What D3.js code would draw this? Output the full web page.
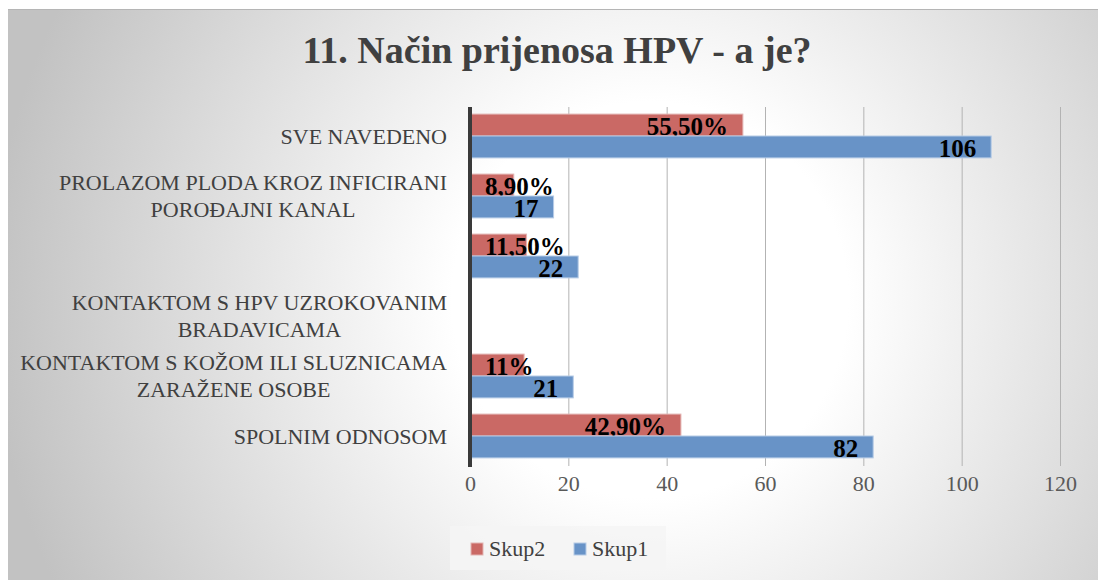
<!DOCTYPE html>
<html>
<head>
<meta charset="utf-8">
<script src="https://d3js.org/d3.v7.min.js"></script>
<style>
  body { margin: 0; background: #fff; }
  svg text { font-family: "Liberation Serif", "DejaVu Serif", serif; }
</style>
</head>
<body>
<div id="chart"></div>
<script>
// Categories from top to bottom (\n marks where the label wraps)
var categories = [
  "SVE NAVEDENO",
  "PROLAZOM PLODA KROZ INFICIRANI\nPOROĐAJNI KANAL",
  "",
  "KONTAKTOM S HPV UZROKOVANIM\nBRADAVICAMA",
  "KONTAKTOM S KOŽOM ILI SLUZNICAMA\nZARAŽENE OSOBE",
  "SPOLNIM ODNOSOM"
];
// Skup1 = counts, Skup2 = percentages (null = no bar)
var skup1 = [106, 17, 22, null, 21, 82];
var skup2 = [55.5, 8.9, 11.5, null, 11, 42.9];
var xTicks = [0, 20, 40, 60, 80, 100, 120];
var seriesNames = ["Skup2", "Skup1"];

var W = 1098, H = 580;
var svg = d3.select("#chart").append("svg").attr("width", W).attr("height", H);

// background with radial gradient
var defs = svg.append("defs");
var grad = defs.append("radialGradient").attr("id", "bg")
  .attr("gradientUnits", "userSpaceOnUse")
  .attr("cx", 650).attr("cy", 300).attr("r", 660);
grad.append("stop").attr("offset", 0).attr("stop-color", "#ffffff");
grad.append("stop").attr("offset", 0.3).attr("stop-color", "#ffffff");
grad.append("stop").attr("offset", 1).attr("stop-color", "#c2c2c2");
svg.append("rect").attr("x", 8).attr("y", 9).attr("width", W - 8).attr("height", H - 9)
  .attr("fill", "url(#bg)");
svg.append("line").attr("x1", 8).attr("x2", W).attr("y1", 9.5).attr("y2", 9.5)
  .attr("stroke", "#b5b5b5");

// title
svg.append("text").attr("x", 557).attr("y", 63).attr("text-anchor", "middle")
  .attr("font-size", 38).attr("font-weight", "bold").attr("fill", "#404040")
  .text("11. Način prijenosa HPV - a je?");

// scales
var x = d3.scaleLinear().domain([0, 120]).range([470, 1060]);
var y = d3.scaleBand().domain(d3.range(categories.length)).range([106, 466])
  .paddingInner(0.27).paddingOuter(0.135);
var ySub = d3.scaleBand().domain(seriesNames).range([0, y.bandwidth()]);
var color = d3.scaleOrdinal().domain(seriesNames).range(["#ca6965", "#6893c7"]);

// gridlines
svg.append("g").selectAll("line").data(xTicks.slice(1)).enter().append("line")
  .attr("x1", function(d) { return x(d) + 0.5; })
  .attr("x2", function(d) { return x(d) + 0.5; })
  .attr("y1", 107).attr("y2", 466)
  .attr("stroke", "#b3b3b3").attr("stroke-width", 1);

// tick labels via axis
var xAxis = svg.append("g").attr("transform", "translate(0,466)")
  .call(d3.axisBottom(x).tickValues(xTicks).tickSize(0).tickPadding(9));
xAxis.select(".domain").remove();
xAxis.selectAll("text").attr("font-size", 22).attr("fill", "#595959")
  .attr("font-family", "Liberation Serif, serif").attr("dy", "0.71em");

// bars
var rows = categories.map(function(c, i) {
  return { i: i, vals: [ { s: "Skup2", v: skup2[i] }, { s: "Skup1", v: skup1[i] } ] };
});

var groups = svg.append("g").selectAll("g").data(rows).enter().append("g")
  .attr("transform", function(d) { return "translate(0," + y(d.i) + ")"; });

var cells = groups.selectAll("g").data(function(d) {
  return d.vals.filter(function(v) { return v.v != null; });
}).enter().append("g");

cells.append("rect")
  .attr("x", x(0))
  .attr("y", function(d) { return ySub(d.s); })
  .attr("width", function(d) { return x(d.v) - x(0); })
  .attr("height", ySub.bandwidth())
  .attr("fill", function(d) { return color(d.s); })
  .attr("stroke", function(d) { return d.s == "Skup2" ? "#e2b3b1" : "#b6cbe6"; })
  .attr("stroke-width", 1);

function fmtLabel(d) {
  if (d.s == "Skup1") return String(d.v);
  return (Number.isInteger(d.v) ? String(d.v) : d.v.toFixed(2).replace(".", ",")) + "%";
}

cells.append("text")
  .attr("font-size", 25).attr("font-weight", "bold").attr("fill", "#000")
  .attr("text-anchor", "end")
  .attr("y", function(d) { return ySub(d.s) + ySub.bandwidth() - 1; })
  .text(fmtLabel)
  .attr("x", function(d) {
    var w = this.getComputedTextLength();
    return Math.max(x(d.v) - 15, 485 + w);
  });

// axis line at zero
svg.append("line").attr("x1", 470).attr("x2", 470).attr("y1", 107).attr("y2", 467)
  .attr("stroke", "#3a3a3a").attr("stroke-width", 4);

// category labels, lines centred on each other, block right aligned
categories.forEach(function(c, i) {
  if (!c) return;
  var lines = c.split("\n");
  var cy = y(i) + y.bandwidth() / 2;
  var g = svg.append("g");
  var texts = lines.map(function(l, k) {
    return g.append("text").attr("font-size", 22).attr("fill", "#404040")
      .attr("text-anchor", "middle")
      .attr("y", cy + (k - (lines.length - 1) / 2) * 27 + 7.5)
      .text(l);
  });
  var maxW = d3.max(texts, function(t) { return t.node().getComputedTextLength(); });
  texts.forEach(function(t) { t.attr("x", 447 - maxW / 2); });
});

// legend
var lg = svg.append("g");
lg.append("rect").attr("x", 450).attr("y", 526).attr("width", 216).attr("height", 44)
  .attr("fill", "#f4f4f4").attr("opacity", 0.85);
var legendX = [471, 574];
seriesNames.forEach(function(s, i) {
  lg.append("rect").attr("x", legendX[i]).attr("y", 543).attr("width", 12).attr("height", 12)
    .attr("fill", color(s)).attr("stroke", s == "Skup2" ? "#e2b3b1" : "#b6cbe6");
  lg.append("text").attr("x", legendX[i] + 18).attr("y", 556)
    .attr("font-size", 22).attr("fill", "#404040").text(s);
});
</script>
</body>
</html>
